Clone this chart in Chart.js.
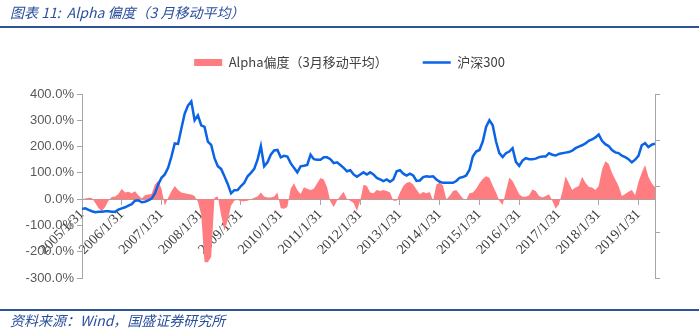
<!DOCTYPE html>
<html>
<head>
<meta charset="utf-8">
<script src="https://cdn.jsdelivr.net/npm/chart.js@4.4.0/dist/chart.umd.min.js"></script>
<style>
  body { margin: 0; background: #fff; }
  #wrap { position: relative; width: 699px; height: 329px; overflow: hidden; font-family: "Noto Sans CJK SC", sans-serif; }
  #wrap canvas { position: absolute; left: 0; top: 0; }
  .cap { position: absolute; left: 10px; color: #2a4f9b; font-style: italic; font-size: 14px; line-height: 16px; white-space: pre; }
  #title { top: 4px; }
  #src { top: 312px; }
  .rule { position: absolute; left: 0; width: 699px; height: 2px; background: #2f5597; }
</style>
</head>
<body>
<div id="wrap">
  <canvas id="chart" width="699" height="329"></canvas>
  <div class="cap" id="title">图表 11:  Alpha 偏度（3 月移动平均）</div>
  <div class="rule" style="top:26px"></div>
  <div class="rule" style="top:309px"></div>
  <div class="cap" id="src">资料来源：Wind，国盛证券研究所</div>
</div>
<script>
// 月度数据：2005/1 ~ 2019/6，单位 %
const startYear = 2005;

const alphaSkew = [
  0, 2, 5, 4, -15, -35, -45, -30, -5, 8, 10, 20,          // 2005
  40, 25, 28, 22, 30, 15, 2, 15, 18, 20, 55, 70,          // 2006
  40, -25, 5, 30, 50, 35, 25, 22, 20, 18, 12, -10,        // 2007
  -60, -240, -240, -220, 5, 10, -60, -120, -80, -25, -5, -3, // 2008
  -8, -8, -6, 0, 5, 10, 25, 10, 6, 6, 10, 25,             // 2009
  -35, -37, -30, 40, 60, 35, 20, 45, 40, 35, 40, 60,      // 2010
  80, 75, 45, -10, -30, -5, 12, 28, 0, -6, -15, -45,      // 2011
  -5, 55, 50, 25, 22, 35, 31, 35, 31, 25, -6, -6,         // 2012
  25, 50, 62, 65, 56, 37, 19, 27, 22, 27, -6, 56,         // 2013
  62, 52, 0, 12, 31, 35, 19, 2, -3, 22, 25, 40,           // 2014
  60, 77, 87, 81, 52, 25, -6, -22, 31, 81, 69, 44,        // 2015
  19, 9, 9, 15, 37, 31, 12, 6, 12, 19, -6, -37,           // 2016
  -19, 27, 87, 60, 35, 44, 50, 85, 62, 47, 44, 35,        // 2017
  50, 112, 144, 135, 100, 75, 50, 12, 20, 28, 35, 15,     // 2018
  65, 100, 130, 85, 60, 45                                // 2019
];

const hs300 = [
  -37, -35, -41, -46, -50, -48, -48, -46, -46, -48, -48, -40,   // 2005
  -35, -31, -25, -19, -6, -4, -12, -10, -5, 2, 22, 56,         // 2006
  81, 94, 119, 162, 212, 210, 269, 325, 356, 372, 300, 319,    // 2007
  281, 275, 219, 206, 156, 125, 115, 87, 58, 22, 34, 35,       // 2008
  50, 62, 87, 100, 115, 150, 202, 125, 140, 169, 185, 187,     // 2009
  159, 165, 162, 137, 119, 102, 125, 127, 130, 169, 152, 150,  // 2010
  150, 159, 159, 152, 137, 140, 130, 119, 106, 110, 94, 85,    // 2011
  94, 102, 94, 102, 94, 81, 75, 69, 75, 66, 75, 106,           // 2012
  110, 97, 90, 97, 90, 69, 71, 84, 87, 85, 87, 75,             // 2013
  66, 62, 62, 62, 62, 69, 81, 84, 90, 112, 162, 181,           // 2014
  187, 219, 275, 300, 281, 219, 175, 160, 175, 181, 194, 142,  // 2015
  127, 147, 156, 152, 152, 154, 160, 162, 162, 175, 169, 166,  // 2016
  172, 175, 177, 179, 184, 194, 200, 205, 212, 222, 227, 235,  // 2017
  246, 222, 209, 202, 187, 178, 175, 165, 160, 152, 140, 150,  // 2018
  165, 205, 213, 198, 207, 211                                 // 2019
];

const yTicks = [-300, -200, -100, 0, 100, 200, 300, 400];

// 类别：每月月末
const labels = [];
for (let i = 0; i < hs300.length; i++) {
  const y = startYear + Math.floor(i / 12);
  const m = i % 12 + 1;
  labels.push(y + '/' + m + '/' + new Date(y, m, 0).getDate());
}

const axisGray = '#A6A6A6';

// 图例和绘图区之间多留一点空
const legendGap = {
  id: 'legendGap',
  beforeInit(chart) {
    const fit = chart.legend.fit;
    chart.legend.fit = function () {
      fit.call(this);
      this.height += 15;
    };
  }
};

new Chart(document.getElementById('chart'), {
  type: 'line',
  data: {
    labels: labels,
    datasets: [
      {
        label: 'Alpha偏度（3月移动平均）',
        data: alphaSkew,
        fill: 'origin',
        backgroundColor: '#FF7C80',
        borderColor: '#FF7C80',
        borderWidth: 0,
        pointRadius: 0,
        pointStyle: 'rect',
        tension: 0,
        order: 2
      },
      {
        label: '沪深300',
        data: hs300,
        fill: false,
        borderColor: '#0B63E5',
        backgroundColor: '#0B63E5',
        borderWidth: 2.5,
        pointRadius: 0,
        pointStyle: 'line',
        tension: 0,
        order: 1
      }
    ]
  },
  options: {
    responsive: false,
    animation: false,
    layout: { padding: { top: 21, bottom: 51, left: 0, right: 0 } },
    plugins: {
      legend: {
        position: 'top',
        labels: {
          usePointStyle: true,
          pointStyleWidth: 28,
          boxHeight: 7,
          padding: 35,
          color: '#404040',
          font: { family: '"Noto Sans CJK SC", sans-serif', size: 13 },
          sort: (a, b) => a.datasetIndex - b.datasetIndex
        }
      },
      tooltip: { enabled: false }
    },
    scales: {
      x: {
        type: 'category',
        position: { y: 0 },
        afterFit: s => { s.height = 0; },
        grid: {
          drawOnChartArea: false,
          tickLength: 5,
          color: c => (c.index % 12 === 0 ? axisGray : 'rgba(0,0,0,0)')
        },
        border: { color: axisGray },
        ticks: {
          autoSkip: false,
          maxRotation: 45,
          minRotation: 45,
          padding: 2,
          color: '#404040',
          font: { family: '"Liberation Serif", serif', size: 14 },
          callback: function (v, i) { return i % 12 === 0 ? this.getLabelForValue(v) : ''; }
        }
      },
      y: {
        position: 'left',
        min: yTicks[0],
        max: yTicks[yTicks.length - 1],
        afterFit: s => { s.width = 82; },
        grid: { drawOnChartArea: false, tickLength: 5, color: axisGray },
        border: { color: axisGray },
        ticks: {
          stepSize: 100,
          color: '#595959',
          font: { family: '"Liberation Sans", sans-serif', size: 13 },
          callback: v => v.toFixed(1) + '%'
        }
      },
      y2: {
        position: 'right',
        min: 0,
        max: 4,
        afterFit: s => { s.width = 44; },
        grid: { drawOnChartArea: false, tickLength: 5, color: axisGray },
        border: { color: axisGray },
        ticks: { display: false, stepSize: 1 }
      }
    }
  },
  plugins: [legendGap]
});
</script>
</body>
</html>
